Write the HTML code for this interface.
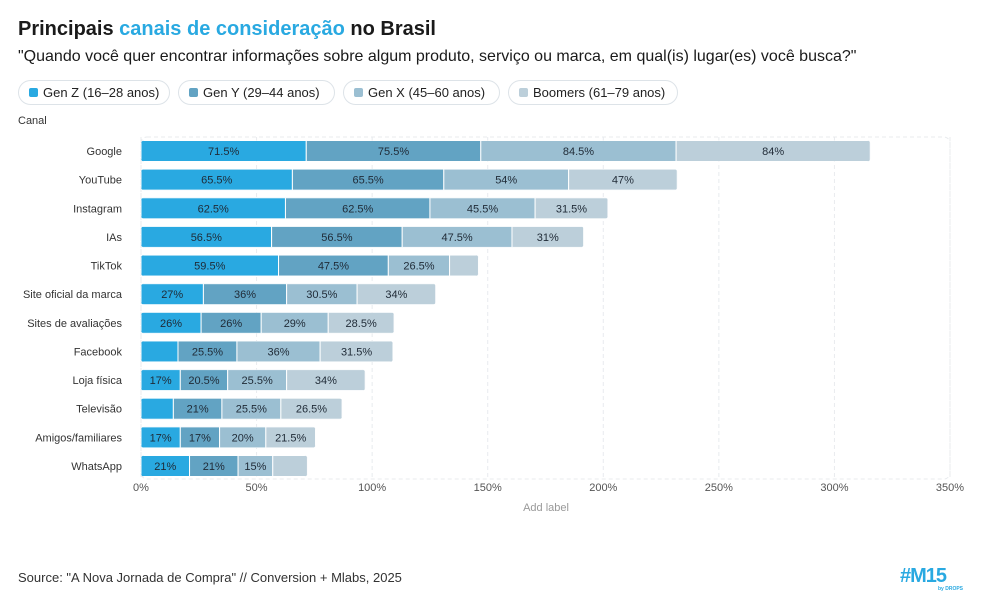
<!DOCTYPE html>
<html><head><meta charset="utf-8"><style>
body{margin:0;width:982px;height:605px;background:#fff;font-family:"Liberation Sans",sans-serif;position:relative;overflow:hidden;color:#1a1a1a}
.t{position:absolute;white-space:nowrap}
.pill{position:absolute;top:80px;height:25px;border:1px solid #dde3e8;border-radius:13px;box-sizing:border-box;font-size:13px;line-height:23px;padding-left:24px;color:#222}
.pill i{position:absolute;left:10px;top:7px;width:9px;height:9px;border-radius:2px}
</style></head><body>
<div class="t" style="left:18px;top:18px;font-size:20px;font-weight:bold">Principais <span style="color:#29a9e1">canais de consideração</span> no Brasil</div>
<div class="t" style="left:18px;top:48px;font-size:16px">"Quando você quer encontrar informações sobre algum produto, serviço ou marca, em qual(is) lugar(es) você busca?"</div>
<div class="pill" style="left:18px;width:152px"><i style="background:#29a9e1"></i>Gen Z (16–28 anos)</div>
<div class="pill" style="left:178px;width:157px"><i style="background:#62a3c3"></i>Gen Y (29–44 anos)</div>
<div class="pill" style="left:343px;width:157px"><i style="background:#9bbfd2"></i>Gen X (45–60 anos)</div>
<div class="pill" style="left:508px;width:170px"><i style="background:#bccfda"></i>Boomers (61–79 anos)</div>
<div class="t" style="left:18px;top:115px;font-size:11px;color:#333">Canal</div>
<svg id="c" width="982" height="605" style="position:absolute;left:0;top:0"></svg>
<div class="t" style="left:18px;top:570px;font-size:13px;color:#333">Source: "A Nova Jornada de Compra" // Conversion + Mlabs, 2025</div>
<div class="t" style="left:900px;top:565px;font-size:20px;font-weight:bold;color:#29a9e1;letter-spacing:-1px">#M15</div>
<div class="t" style="left:938px;top:586px;font-size:5px;font-weight:bold;color:#29a9e1">by DROPS</div>
<script>
const categories=["Google","YouTube","Instagram","IAs","TikTok","Site oficial da marca","Sites de avaliações","Facebook","Loja física","Televisão","Amigos/familiares","WhatsApp"];
const genZ=[71.5,65.5,62.5,56.5,59.5,27,26,16,17,14,17,21];
const genY=[75.5,65.5,62.5,56.5,47.5,36,26,25.5,20.5,21,17,21];
const genX=[84.5,54,45.5,47.5,26.5,30.5,29,36,25.5,25.5,20,15];
const boomers=[84,47,31.5,31,12.5,34,28.5,31.5,34,26.5,21.5,15];
const hideLabel=[[],[],[],[],[3],[],[],[0],[],[0],[],[3]];
const ticks=[0,50,100,150,200,250,300,350];
const series=[genZ,genY,genX,boomers];
const colors=["#29a9e1","#62a3c3","#9bbfd2","#bccfda"];
const NS="http://www.w3.org/2000/svg";const svg=document.getElementById('c');
const x0=141,x1=950,yTop=137,yBot=479;
const xs=v=>x0+v*(x1-x0)/350;
const ys=i=>151+i*(466-151)/11;
function el(t,a){const e=document.createElementNS(NS,t);for(const k in a)e.setAttribute(k,a[k]);svg.appendChild(e);return e;}
const fr=el('rect',{x:x0,y:yTop,width:x1-x0,height:yBot-yTop,rx:6,fill:'none',stroke:'#e8ebee','stroke-dasharray':'4 3'});


ticks.forEach(t=>{
 const g=el('line',{x1:xs(t),x2:xs(t),y1:yTop,y2:yBot,stroke:'#e8ebee','stroke-dasharray':'4 3'});
 
 
 const tx=el('text',{x:xs(t),y:491,'font-size':11,fill:'#555','text-anchor':'middle'});tx.textContent=t+'%';
 
 
});
const xl=el('text',{x:546,y:511,'font-size':11,fill:'#999','text-anchor':'middle'});xl.textContent='Add label';


categories.forEach((c,i)=>{
 const y=ys(i);
 const lb=el('text',{x:122,y:y+4,'font-size':11,fill:'#333','text-anchor':'end'});lb.textContent=c;
 
 
 let cum=0;
 const total=series.reduce((s,a)=>s+a[i],0);
 const cp=el('clipPath',{id:'cp'+i});
 const cr=document.createElementNS(NS,'rect');
 cr.setAttribute('x',xs(0));cr.setAttribute('y',y-10.5);cr.setAttribute('width',xs(total)-xs(0));cr.setAttribute('height',21);cr.setAttribute('rx',3);
 cp.appendChild(cr);
 series.forEach((s,k)=>{
  const a=xs(cum),b=xs(cum+s[i]);
  const r=el('rect',{x:a,y:y-10.5,width:b-a,height:21,fill:colors[k],stroke:'#fff','stroke-width':1,'clip-path':'url(#cp'+i+')'});
  
  
  if(!hideLabel[i].includes(k)){
   const tx=el('text',{x:(a+b)/2,y:y+4,'font-size':11,fill:'#1f2a36','text-anchor':'middle'});tx.textContent=s[i]+'%';
   
   
  }
  cum+=s[i];
 });
});
</script>
</body></html>
